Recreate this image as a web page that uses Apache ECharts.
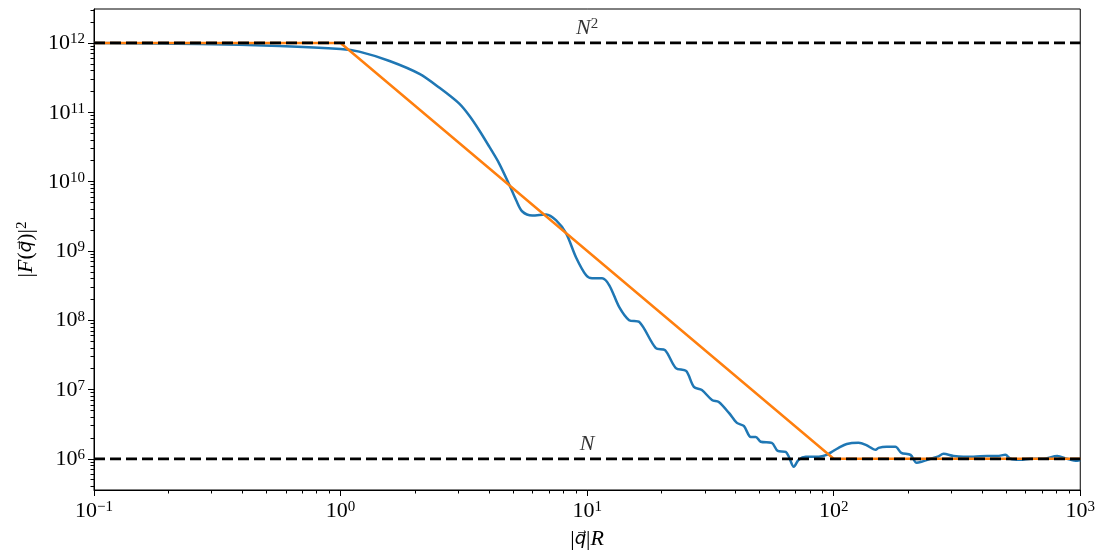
<!DOCTYPE html>
<html>
<head>
<meta charset="utf-8">
<script src="https://cdn.jsdelivr.net/npm/echarts@6/dist/echarts.min.js"></script>
<style>
html,body{margin:0;padding:0;background:#fff}
#main{width:1098px;height:557px}
</style>
</head>
<body>
<div id="main"></div>
<script>
// blue curve: |q|R and |F(q)|^2
var qR = [0.1, 0.268, 0.566, 1.0, 1.19, 1.58, 2.09, 2.52, 3.03, 3.33, 3.66, 4.01, 4.40, 4.83, 5.16, 5.46, 5.99,
  6.82, 7.49, 8.22, 9.02, 9.91, 10.47, 11.5, 12.3, 13.5, 14.8, 16.3, 19.0, 20.7, 22.9, 25.2, 27.1,
  29.2, 32.1, 34.2, 37.6, 40.5, 43.2, 46.1, 48.3, 50.6, 56.1, 59.3, 63.9, 65.8, 68.9, 72.1, 77.1,
  81.5, 86.9, 93.7, 98.2, 104.7, 113, 126, 135, 148, 152, 164, 178, 188, 205, 217, 227,
  247, 264, 279, 306, 336, 369, 420, 461, 497, 521, 572, 628, 708, 807, 885, 972, 1000];
var F2 = [1.0e12, 9.7e11, 9.06e11, 8.2e11, 7.5e11, 5.5e11, 3.58e11, 2.25e11, 1.33e11, 8.9e10, 5.42e10, 3.19e10, 1.82e10, 9.06e9, 5.33e9, 3.70e9, 3.24e9,
  3.35e9, 2.75e9, 1.79e9, 8.05e8, 4.44e8, 4.02e8, 4.02e8, 3.19e8, 1.54e8, 1.0e8, 9.36e7, 3.95e7, 3.70e7, 2.04e7, 1.85e7, 1.09e7,
  9.84e6, 7.06e6, 6.61e6, 4.59e6, 3.30e6, 2.98e6, 2.07e6, 2.07e6, 1.76e6, 1.70e6, 1.30e6, 1.26e6, 1.07e6, 7.67e5, 9.68e5, 1.07e6,
  1.07e6, 1.07e6, 1.14e6, 1.26e6, 1.44e6, 1.64e6, 1.70e6, 1.59e6, 1.35e6, 1.44e6, 1.49e6, 1.49e6, 1.22e6, 1.14e6, 8.75e5, 9.06e5,
  1.0e6, 1.07e6, 1.18e6, 1.10e6, 1.07e6, 1.07e6, 1.10e6, 1.10e6, 1.14e6, 1.0e6, 9.68e5, 1.0e6, 1.0e6, 1.10e6, 1.0e6, 9.36e5, 9.5e5];

// orange asymptote
var asymQ = [0.1, 1, 100, 1000];
var asymF = [1e12, 1e12, 1e6, 1e6];

// dashed reference levels and their labels
var levelValues = [1e12, 1e6];
var levelLabelQ = 10;

// tick values
var xMajor = [0.1, 1, 10, 100, 1000];
var yMajor = [1e6, 1e7, 1e8, 1e9, 1e10, 1e11, 1e12];

var xMin = 0.1, xMax = 1000;
var yMin = Math.pow(10, 5.55), yMax = Math.pow(10, 12.49);

function minorTicks(lo, hi) {
  var out = [];
  for (var e = -2; e <= 13; e++) {
    for (var m = 2; m <= 9; m++) {
      var v = m * Math.pow(10, e);
      if (v > lo && v < hi) out.push(v);
    }
  }
  return out;
}

var serif = 'Liberation Serif';
var richText = {
  b: { fontFamily: serif, fontSize: 22, color: '#000', lineHeight: 22, padding: [1, 0, 0, 0] },
  s: { fontFamily: serif, fontSize: 15, color: '#000', lineHeight: 15, verticalAlign: 'top' },
  i: { fontFamily: serif, fontSize: 22, color: '#000', fontStyle: 'italic', lineHeight: 22, padding: [1, 0, 0, 0] },
  u: { fontFamily: serif, fontSize: 22, color: '#000', lineHeight: 22, padding: [1, 0, 0, 0] },
  q: { fontFamily: '"DejaVu Sans", "Noto Sans", sans-serif', fontSize: 18, color: '#000', fontStyle: 'italic', lineHeight: 22, padding: [1, 0, 0, 0] }
};

function powLabel(v) {
  var e = Math.round(Math.log10(v));
  return '{b|10}{s|' + (e < 0 ? '\u2212' + (-e) : e) + '}';
}

function pairs(xs, ys) {
  return xs.map(function (x, i) { return [x, ys[i]]; });
}

var chart = echarts.init(document.getElementById('main'));

var series = [
  {
    type: 'line', data: pairs(qR, F2), showSymbol: false, smooth: 0.3, z: 2,
    lineStyle: { color: '#1f77b4', width: 2.5 }
  },
  {
    type: 'line', data: pairs(asymQ, asymF), showSymbol: false, z: 3,
    lineStyle: { color: '#ff7f0e', width: 2.5 }
  }
];
levelValues.forEach(function (v) {
  series.push({
    type: 'line', data: [[xMin, v], [xMax, v]], showSymbol: false, z: 4,
    lineStyle: { color: '#000', width: 2.8, type: [11, 5] }
  });
});
series.push({
  type: 'scatter', symbolSize: 0, z: 5,
  data: levelValues.map(function (v) { return [levelLabelQ, v]; }),
  label: {
    show: true, position: 'top', distance: 4,
    formatter: function (p) {
      return p.dataIndex === 0 ? '{n|N}{s|2}' : '{n|N}';
    },
    rich: {
      n: { fontFamily: serif, fontSize: 22, fontStyle: 'italic', color: '#000', lineHeight: 22, padding: [1, 0, 0, 0] },
      s: { fontFamily: serif, fontSize: 15, color: '#000', lineHeight: 15, verticalAlign: 'top' }
    }
  }
});

chart.setOption({
  animation: false,
  backgroundColor: '#fff',
  grid: { left: 94, right: 16, top: 9, bottom: 67, show: true, borderColor: '#000', borderWidth: 1 },
  xAxis: [
    {
      type: 'log', logBase: 10, min: xMin, max: xMax,
      name: '{u||}{q|q\u20D7}{u||}{i|R}', nameLocation: 'middle', nameGap: 37,
      nameTextStyle: { fontFamily: serif, fontSize: 22, color: '#000', rich: richText },
      axisLine: { lineStyle: { color: '#000', width: 1 } },
      axisTick: { customValues: xMajor, length: 6, lineStyle: { color: '#000' } },
      axisLabel: { customValues: xMajor, formatter: powLabel, rich: richText, margin: 10 },
      splitLine: { show: false }
    },
    {
      type: 'log', logBase: 10, min: xMin, max: xMax, position: 'bottom',
      axisLine: { show: false },
      axisTick: { customValues: minorTicks(xMin, xMax), length: 3.5, lineStyle: { color: '#000' } },
      axisLabel: { show: false },
      splitLine: { show: false }
    }
  ],
  yAxis: [
    {
      type: 'log', logBase: 10, min: yMin, max: yMax,
      name: '{u||}{i|F}{u|(}{q|q\u20D7}{u|)|}{s|2}', nameLocation: 'middle', nameGap: 54, nameRotate: 90,
      nameTextStyle: { fontFamily: serif, fontSize: 22, color: '#000', rich: richText },
      axisLine: { lineStyle: { color: '#000', width: 1 } },
      axisTick: { customValues: yMajor, length: 6, lineStyle: { color: '#000' } },
      axisLabel: { customValues: yMajor, formatter: powLabel, rich: richText, margin: 9 },
      splitLine: { show: false }
    },
    {
      type: 'log', logBase: 10, min: yMin, max: yMax, position: 'left',
      axisLine: { show: false },
      axisTick: { customValues: minorTicks(yMin, yMax), length: 3.5, lineStyle: { color: '#000' } },
      axisLabel: { show: false },
      splitLine: { show: false }
    }
  ],
  series: series
});
</script>
</body>
</html>
